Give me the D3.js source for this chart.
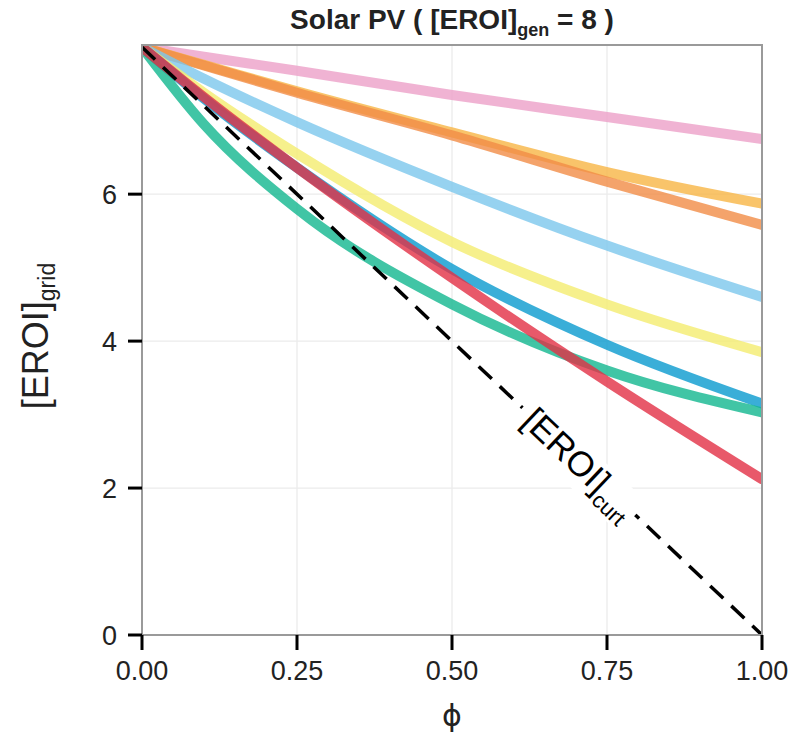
<!DOCTYPE html>
<html><head><meta charset="utf-8">
<script src="https://cdn.jsdelivr.net/npm/d3@7"></script>
<style>body{margin:0;background:#fff}</style>
</head><body><svg id="c" width="794" height="734"></svg>
<script>
// ---- data ----
const phi = [0, 0.1, 0.25, 0.5, 0.75, 1];
const pinkVals        = [8, 7.87, 7.68, 7.35, 7.05, 6.75];
const lightOrangeVals = [8, 7.76, 7.40, 6.84, 6.30, 5.87];
const salmonVals      = [8, 7.75, 7.38, 6.80, 6.17, 5.58];
const lightBlueVals   = [8, 7.57, 6.98, 6.10, 5.30, 4.60];
const yellowVals      = [8, 7.38, 6.55, 5.35, 4.50, 3.85];
const blueVals        = [8, 7.30, 6.36, 4.98, 3.95, 3.15];
const tealVals        = [8, 6.95, 5.80, 4.50, 3.60, 3.03];
const redVals         = [8, 7.32, 6.36, 4.86, 3.45, 2.12];
const curtPhi  = [0, 1];
const curtVals = [8, 0];
const seriesValues = [pinkVals, lightOrangeVals, salmonVals, lightBlueVals, yellowVals, blueVals, tealVals, redVals];
const seriesColors = ["#eca0c8", "#f7b545", "#f18c46", "#7cc7ec", "#f4ec6f", "#099ace", "#12b68e", "#e23045"];
const xTicks = [0, 0.25, 0.5, 0.75, 1];
const xTickLabels = ["0.00", "0.25", "0.50", "0.75", "1.00"];
const yTicks = [0, 2, 4, 6];
const yTickLabels = ["0", "2", "4", "6"];

// ---- layout ----
const svg = d3.select("#c");
const X0 = 142, X1 = 762, Y0 = 635, YT = 45;
const x = d3.scaleLinear().domain([0, 1]).range([X0, X1]);
const y = d3.scaleLinear().domain([0, 8.03]).range([Y0, YT]);
const FONT = "'Liberation Sans', Arial, Helvetica, sans-serif";

// grid
const g = svg.append("g");
g.selectAll(".gx").data(xTicks.slice(1, 4)).join("line")
  .attr("x1", d => x(d)).attr("x2", d => x(d)).attr("y1", YT).attr("y2", Y0)
  .attr("stroke", "#ebebeb").attr("stroke-width", 1.3);
g.selectAll(".gy").data(yTicks.slice(1)).join("line")
  .attr("y1", d => y(d)).attr("y2", d => y(d)).attr("x1", X0).attr("x2", X1)
  .attr("stroke", "#ebebeb").attr("stroke-width", 1.3);

// clip
svg.append("clipPath").attr("id", "clp").append("rect")
  .attr("x", X0).attr("y", YT).attr("width", X1 - X0).attr("height", Y0 - YT);

const line = d3.line().x(d => x(d[0])).y(d => y(d[1])).curve(d3.curveMonotoneX);
const lg = svg.append("g").attr("clip-path", "url(#clp)");
seriesValues.forEach((vals, i) => {
  lg.append("path").datum(phi.map((p, j) => [p, vals[j]]))
    .attr("d", line).attr("fill", "none")
    .attr("stroke", seriesColors[i]).attr("stroke-opacity", 0.8)
    .attr("stroke-width", 10).attr("stroke-linecap", "round");
});

// dashed curtailment line
lg.append("path").datum(curtPhi.map((p, j) => [p, curtVals[j]]))
  .attr("d", d3.line().x(d => x(d[0])).y(d => y(d[1])))
  .attr("fill", "none").attr("stroke", "#000").attr("stroke-width", 3.5)
  .attr("stroke-dasharray", "18,11");

// curt label
const ang = Math.atan2(y(0) - y(8), x(1) - x(0)) * 180 / Math.PI;
const lp = 0.624;
const lab = svg.append("g").attr("transform", `translate(${x(lp)},${y(8 * (1 - lp))}) rotate(${ang})`);
const bg = lab.append("rect").attr("fill", "#fff");
const lt = lab.append("text").attr("font-family", FONT).attr("font-size", 35).attr("fill", "#000")
  .attr("dy", "0.36em");
lt.append("tspan").text("[EROI]");
lt.append("tspan").attr("font-size", 22).attr("dy", 9).text("curt");
const bb = lt.node().getBBox();
bg.attr("x", bb.x - 9).attr("y", bb.y + 2).attr("width", bb.width + 14).attr("height", bb.height - 4);

// panel border
svg.append("path").attr("d", `M${X0},${Y0}V${YT}H${X1}V${Y0}H${X0}`)
  .attr("fill", "none").attr("stroke", "#9a9a9a").attr("stroke-width", 2);

// ticks
svg.selectAll(".tx").data(xTicks).join("line")
  .attr("x1", d => x(d)).attr("x2", d => x(d)).attr("y1", Y0).attr("y2", Y0 + 15)
  .attr("stroke", "#000").attr("stroke-width", 3);
svg.selectAll(".ty").data(yTicks).join("line")
  .attr("y1", d => y(d)).attr("y2", d => y(d)).attr("x1", X0).attr("x2", X0 - 14)
  .attr("stroke", "#000").attr("stroke-width", 3);

svg.selectAll(".lx").data(xTicks).join("text")
  .attr("x", d => x(d)).attr("y", 680).attr("text-anchor", "middle")
  .attr("font-family", FONT).attr("font-size", 27).attr("fill", "#222")
  .text((d, i) => xTickLabels[i]);
svg.selectAll(".ly").data(yTicks).join("text")
  .attr("x", 117).attr("y", d => y(d)).attr("dy", "0.36em").attr("text-anchor", "end")
  .attr("font-family", FONT).attr("font-size", 27).attr("fill", "#222")
  .text((d, i) => yTickLabels[i]);

// axis titles
svg.append("text").attr("x", 452).attr("y", 726).attr("text-anchor", "middle")
  .attr("font-family", "'DejaVu Sans', sans-serif").attr("font-size", 30).attr("fill", "#222").text("ϕ");
const yl = svg.append("text").attr("transform", "translate(48,336) rotate(-90)")
  .attr("text-anchor", "middle").attr("font-family", FONT).attr("font-size", 36).attr("fill", "#222");
yl.append("tspan").text("[EROI]");
yl.append("tspan").attr("font-size", 23).attr("dy", 7).text("grid");

// title
const tt = svg.append("text").attr("x", 452).attr("y", 29).attr("text-anchor", "middle")
  .attr("font-family", FONT).attr("font-weight", "bold").attr("font-size", 28).attr("fill", "#222");
tt.append("tspan").text("Solar PV ( [EROI]");
tt.append("tspan").attr("font-size", 18).attr("dy", 7).text("gen");
tt.append("tspan").attr("dy", -7).text(" = 8 )");
</script>
</body></html>
